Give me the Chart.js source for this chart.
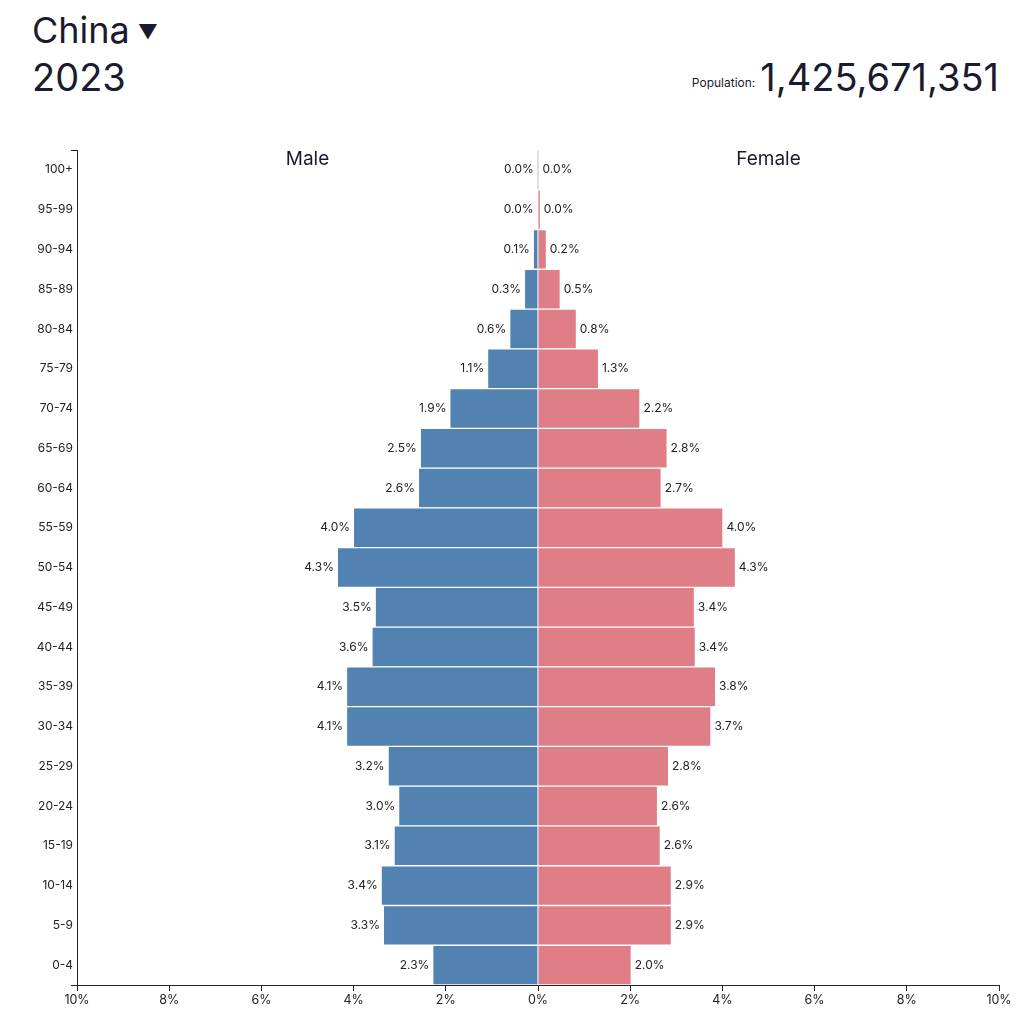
<!DOCTYPE html>
<html>
<head>
<meta charset="utf-8">
<script src="https://cdn.jsdelivr.net/npm/chart.js@4.4.1/dist/chart.umd.min.js"></script>
<style>
  html, body { margin: 0; padding: 0; background: #fff; }
  body { width: 1016px; height: 1024px; position: relative; overflow: hidden; font-family: Inter, "Helvetica Neue", Arial, sans-serif; color: #1b1b2f; }
  #country { position: absolute; left: 32px; top: 8px; font-size: 36px; line-height: 44px; }
  #country .arrow { font-size: 20px; vertical-align: 4px; margin-left: 8px; }
  #year { position: absolute; left: 32px; top: 54px; font-size: 38px; line-height: 46px; }
  #pop { position: absolute; right: 17px; top: 54px; font-size: 38px; line-height: 46px; white-space: nowrap; }
  #pop .lbl { font-size: 12px; margin-right: 5px; vertical-align: 4px; }
  #wrap { position: absolute; left: 0; top: 130px; width: 1016px; height: 894px; }
</style>
</head>
<body>
<div id="country">China<span class="arrow">▼</span></div>
<div id="year">2023</div>
<div id="pop"><span class="lbl">Population:</span>1,425,671,351</div>
<div id="wrap"><canvas id="pyramid"></canvas></div>
<script>
const ageGroups = ['100+', '95-99', '90-94', '85-89', '80-84', '75-79', '70-74', '65-69', '60-64', '55-59',
    '50-54', '45-49', '40-44', '35-39', '30-34', '25-29', '20-24', '15-19', '10-14', '5-9', '0-4'];
const maleValues = [0.004, 0.01, 0.09, 0.28, 0.6, 1.08, 1.9, 2.54, 2.58, 3.99,
    4.34, 3.52, 3.59, 4.14, 4.14, 3.24, 3.01, 3.11, 3.39, 3.34, 2.27];
const femaleValues = [0.01, 0.04, 0.17, 0.47, 0.82, 1.3, 2.2, 2.79, 2.66, 4.0,
    4.27, 3.38, 3.4, 3.84, 3.74, 2.82, 2.58, 2.64, 2.88, 2.88, 2.01];
const xTicks = [-10, -8, -6, -4, -2, 0, 2, 4, 6, 8, 10];

const textColor = '#222';

const barLabels = {
    id: 'barLabels',
    afterDatasetsDraw(chart) {
        const ctx = chart.ctx;
        ctx.save();
        ctx.font = '12px Inter, Arial, sans-serif';
        ctx.fillStyle = textColor;
        ctx.textBaseline = 'middle';
        chart.data.datasets.forEach((ds, i) => {
            const meta = chart.getDatasetMeta(i);
            meta.data.forEach((bar, j) => {
                const v = Math.abs(ds.data[j]).toFixed(1) + '%';
                if (i === 0) {
                    ctx.textAlign = 'right';
                    ctx.fillText(v, bar.x - 4, bar.y);
                } else {
                    ctx.textAlign = 'left';
                    ctx.fillText(v, bar.x + 4, bar.y);
                }
            });
        });
        // side titles
        const a = chart.chartArea;
        const zero = chart.scales.x.getPixelForValue(0);
        ctx.font = '19px Inter, Arial, sans-serif';
        ctx.textAlign = 'center';
        ctx.fillStyle = '#1b1b2f';
        ctx.fillText('Male', (a.left + zero) / 2, a.top + 9);
        ctx.fillText('Female', (a.right + zero) / 2, a.top + 9);
        // outer ticks of the age axis
        ctx.strokeStyle = textColor;
        ctx.lineWidth = 1;
        ctx.beginPath();
        ctx.moveTo(a.left - 6, a.top + 0.5);
        ctx.lineTo(a.left, a.top + 0.5);
        ctx.moveTo(a.left - 6, a.bottom + 0.5);
        ctx.lineTo(a.left, a.bottom + 0.5);
        ctx.stroke();
        ctx.restore();
    }
};

new Chart(document.getElementById('pyramid'), {
    type: 'bar',
    data: {
        labels: ageGroups,
        datasets: [
            {
                label: 'Male',
                data: maleValues.map(v => -v),
                backgroundColor: '#5282b1',
                borderColor: '#ffffff',
                borderWidth: { top: 1, bottom: 1, left: 0, right: 0 },
                borderSkipped: false,
            },
            {
                label: 'Female',
                data: femaleValues,
                backgroundColor: '#e07e88',
                borderColor: '#ffffff',
                borderWidth: { top: 1, bottom: 1, left: 0, right: 0 },
                borderSkipped: false,
            }
        ]
    },
    options: {
        indexAxis: 'y',
        responsive: true,
        maintainAspectRatio: false,
        animation: false,
        layout: { padding: { top: 20, right: 17, bottom: 9, left: 0 } },
        scales: {
            x: {
                stacked: true,
                min: -10,
                max: 10,
                afterBuildTicks: scale => { scale.ticks = xTicks.map(v => ({ value: v })); },
                afterFit: scale => { scale.height = 30; },
                ticks: {
                    color: textColor,
                    font: { size: 12.5, family: 'Inter, Arial, sans-serif' },
                    padding: 2,
                    maxRotation: 0,
                    callback: v => Math.abs(v) + '%'
                },
                grid: {
                    color: c => (c.tick && c.tick.value === 0 ? '#e4e4e4' : 'rgba(0,0,0,0)'),
                    tickColor: textColor,
                    tickLength: 6,
                    drawOnChartArea: true,
                },
                border: { display: true, color: textColor, width: 1 }
            },
            y: {
                stacked: true,
                afterFit: scale => { scale.width = 77; },
                ticks: {
                    color: textColor,
                    font: { size: 12, family: 'Inter, Arial, sans-serif' },
                    padding: 4,
                },
                grid: { display: false, drawTicks: false },
                border: { display: true, color: textColor, width: 1 }
            }
        },
        datasets: { bar: { barPercentage: 1, categoryPercentage: 1 } },
        plugins: {
            legend: { display: false },
            tooltip: { enabled: false }
        }
    },
    plugins: [barLabels]
});
</script>
</body>
</html>
